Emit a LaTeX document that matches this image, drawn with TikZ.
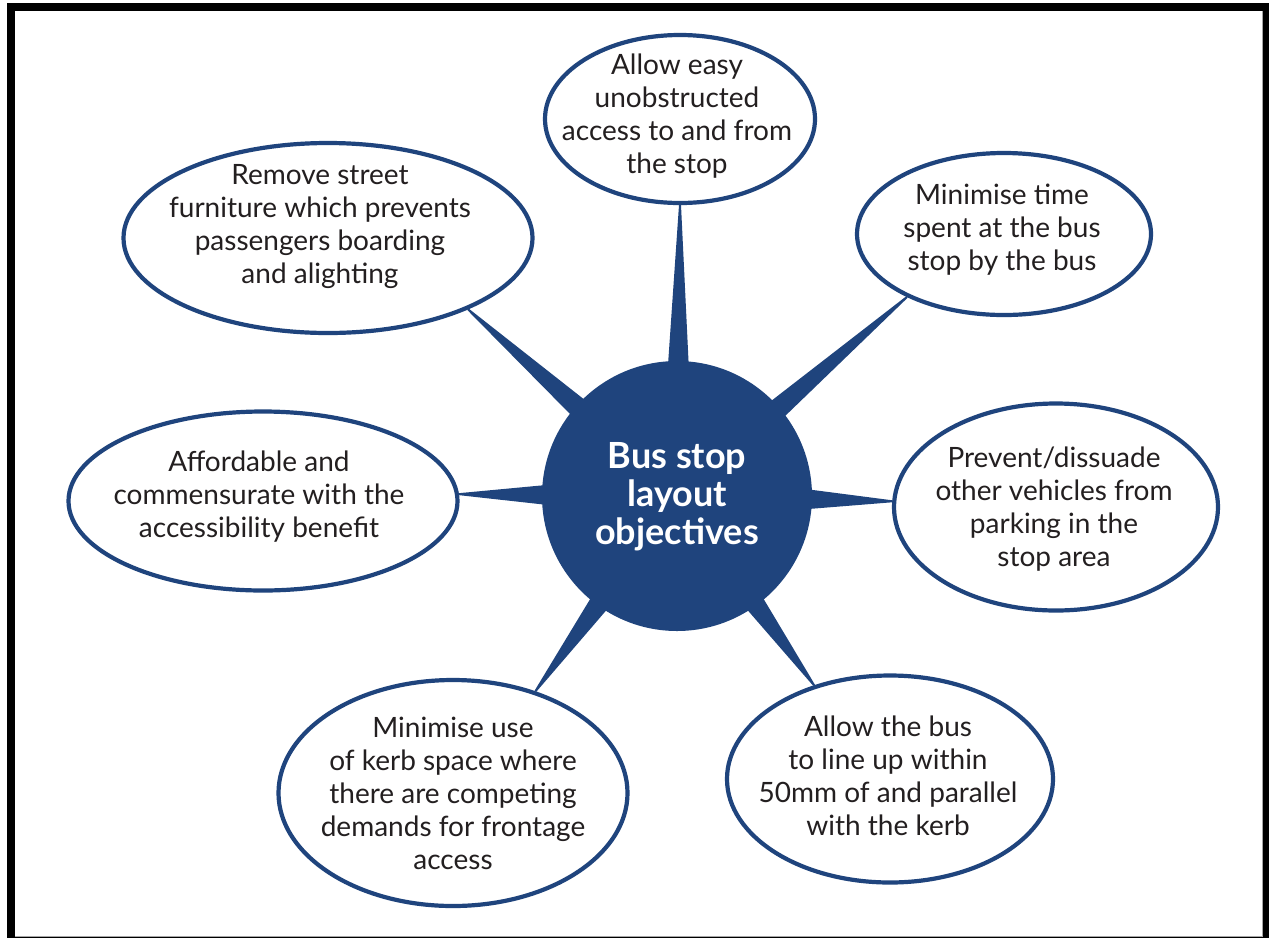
\documentclass[tikz,border=0pt]{standalone}
\usepackage{fontspec}
\setmainfont{Lato}
\usetikzlibrary{shapes.geometric,calc,backgrounds}
\definecolor{busblue}{RGB}{31,68,125}
\definecolor{txtcol}{RGB}{35,31,32}
\newcommand{\drawspoke}[2]{%
  \coordinate (#2) at ($(c)!120pt!(#1)$);
  \fill[spokefill] ($(#2)!11pt!90:(#1)$) -- ($(#1)!1pt!-90:(#2)$) -- ($(#1)!1pt!90:(#2)$) -- ($(#2)!11pt!-90:(#1)$) -- cycle;}
\begin{document}
\begin{tikzpicture}[x=1pt,y=-1pt,
  bubble/.style={ellipse,draw=busblue,line width=4.2pt,fill=white,inner sep=0pt},
  bubbletext/.style={align=center,font=\fontsize{28}{33}\selectfont,text=txtcol,inner sep=0pt},
  spokefill/.style={fill=busblue}]
\useasboundingbox (0,0) rectangle (1269,938);
% hub
\node[circle,fill=busblue,minimum size=270pt,inner sep=0pt] (c) at (677,496) {};
\node[align=center,text=white,font=\bfseries\fontsize{36}{38}\selectfont,inner sep=0pt] (ct) at (677,497) {Bus stop\\layout\\objectives};
% bubbles
\node[bubble,minimum width=270pt,minimum height=168pt] (e1) at (680,119) {};
\node[bubble,minimum width=409pt,minimum height=190pt] (e2) at (328,238) {};
\node[bubble,minimum width=294pt,minimum height=162pt] (e3) at (1004,234) {};
\node[bubble,minimum width=389pt,minimum height=179pt] (e4) at (263,501) {};
\node[bubble,minimum width=324pt,minimum height=207pt] (e5) at (1056,507) {};
\node[bubble,minimum width=349pt,minimum height=226pt] (e6) at (453,793) {};
\node[bubble,minimum width=326pt,minimum height=207pt] (e7) at (890,779) {};
% texts
\node[bubbletext] (l1) at (677,116) {Allow easy\\unobstructed\\access to and from\\the stop};
\node[bubbletext] (l2) at (320,227) {Remove street\\furniture which prevents\\passengers boarding\\and alighting};
\node[bubbletext] (l3) at (1002,230) {Minimise time\\spent at the bus\\stop by the bus};
\node[bubbletext] (l4) at (259,497) {Affordable and\\commensurate with the\\accessibility benefit};
\node[bubbletext] (l5) at (1054,509) {Prevent/dissuade\\other vehicles from\\parking in the\\stop area};
\node[bubbletext] (l6) at (453,793) {Minimise use\\of kerb space where\\there are competing\\demands for frontage\\access};
\node[bubbletext] (l7) at (888,776) {Allow the bus\\to line up within\\50mm of and parallel\\with the kerb};
% spoke tips
\coordinate (t1) at (e1.-90);
\coordinate (t2) at (e2.-27);
\coordinate (t3) at (e3.-147);
\coordinate (t4) at (e4.2);
\coordinate (t5) at (e5.178);
\coordinate (t6) at (e6.51);
\coordinate (t7) at (e7.129);
\begin{scope}[on background layer]
  \fill[black] (7,3) rectangle (1269,938);
  \fill[white] (15,11) rectangle (1262,936);
  \draw[black!35,line width=1pt] (15,936.5) -- (1262.5,936.5) -- (1262.5,11);
  \drawspoke{t1}{b1}
  \drawspoke{t2}{b2}
  \drawspoke{t3}{b3}
  \drawspoke{t4}{b4}
  \drawspoke{t5}{b5}
  \drawspoke{t6}{b6}
  \drawspoke{t7}{b7}
\end{scope}
\end{tikzpicture}
\end{document}
